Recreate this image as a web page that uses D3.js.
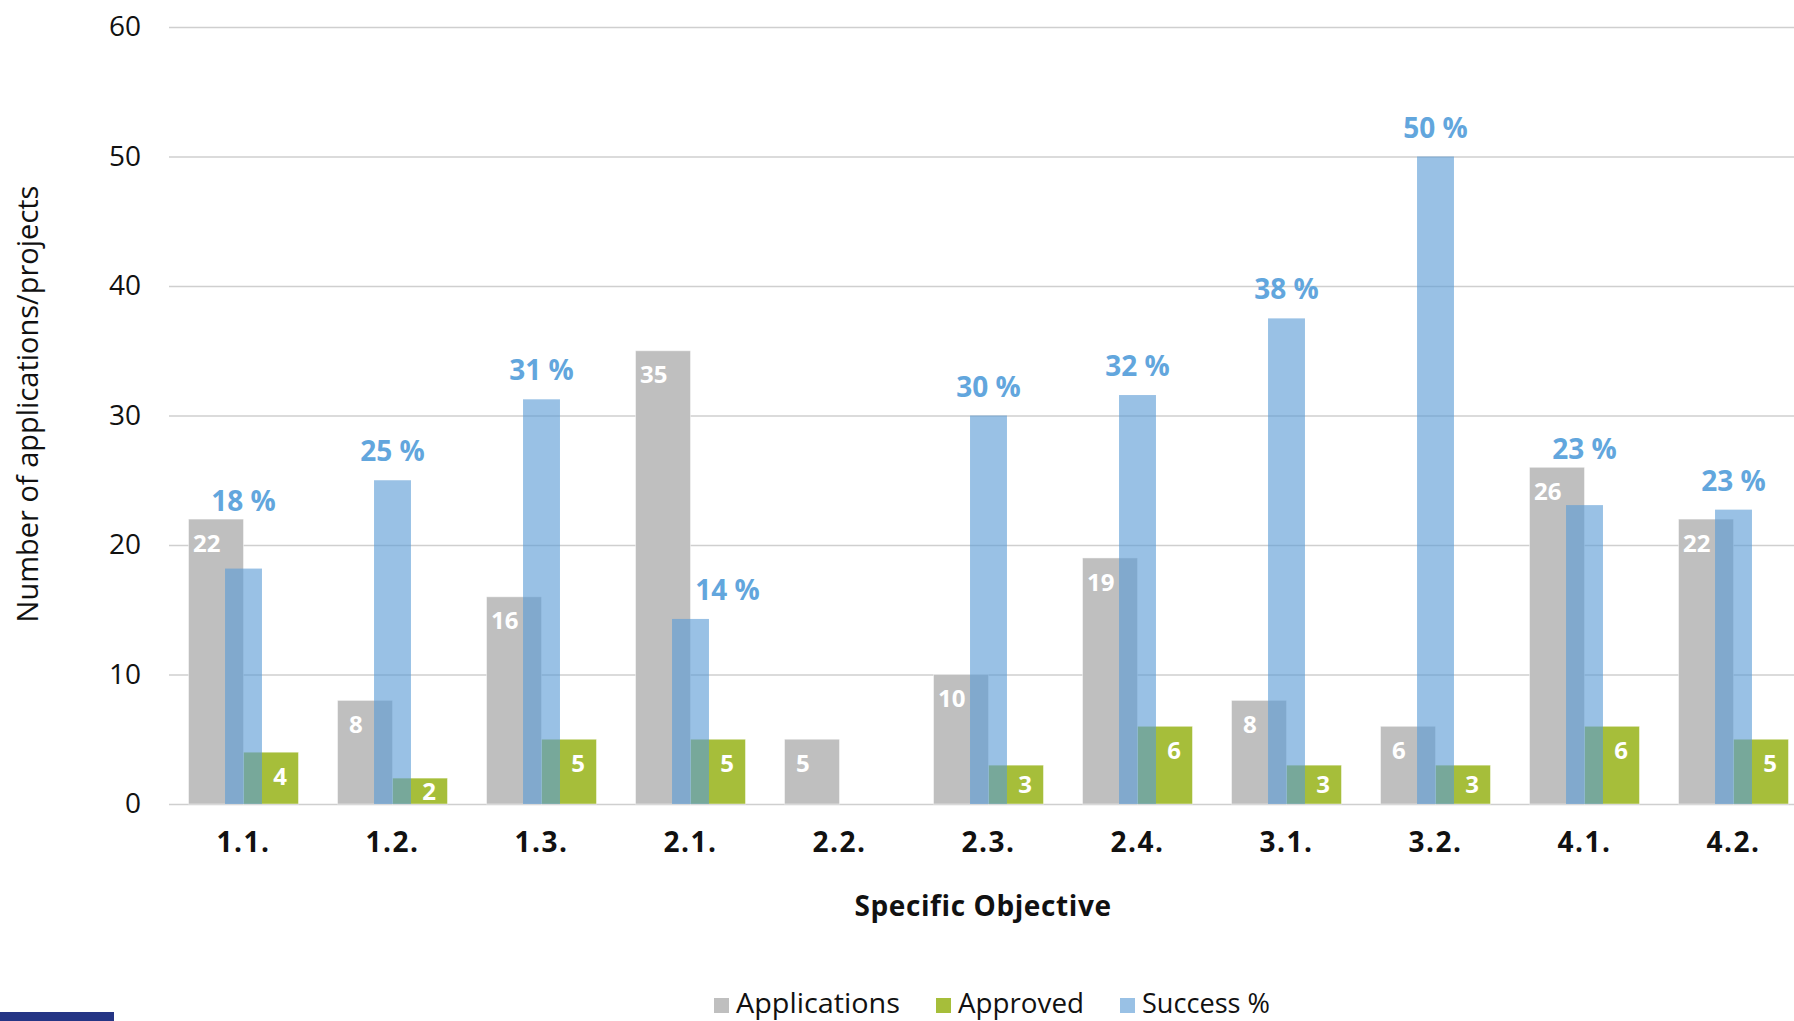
<!DOCTYPE html>
<html>
<head>
<meta charset="utf-8">
<script src="https://cdn.jsdelivr.net/npm/d3@7"></script>
<style>
  html, body { margin: 0; padding: 0; background: #fff; overflow: hidden; }
  svg { display: block; font-family: "Open Sans", "DejaVu Sans", sans-serif; }
</style>
</head>
<body>
<svg id="chart" width="1794" height="1021"></svg>
<script>
// Applications and approvals per specific objective
const categories   = ["1.1.", "1.2.", "1.3.", "2.1.", "2.2.", "2.3.", "2.4.", "3.1.", "3.2.", "4.1.", "4.2."];
const applications = [22, 8, 16, 35, 5, 10, 19, 8, 6, 26, 22];
const approved     = [4, 2, 5, 5, 0, 3, 6, 3, 3, 6, 5];
// Success rate in percent (approved / applications)
const successPct   = [18.18, 25, 31.25, 14.29, 0, 30, 31.58, 37.5, 50, 23.08, 22.73];
const yTicks       = [0, 10, 20, 30, 40, 50, 60];
const legendLabels = ["Applications", "Approved", "Success %"];

const colors = { applications: "#bfbfbf", approved: "#a6be3a", success: "#5b9bd5", label: "#62a6dd" };

const svg = d3.select("#chart");
const plot = { left: 169, right: 1808, top: 27, bottom: 804 };

const y = d3.scaleLinear().domain([0, 60]).range([plot.bottom, plot.top]);

// Clustered columns (applications + approved) on the main band
const x = d3.scaleBand().domain(categories).range([plot.left, plot.right])
  .paddingInner(0.262).paddingOuter(0.131);
const xSub = d3.scaleBand().domain(["applications", "approved"]).range([0, x.bandwidth()]);
// Narrower overlaid column for the success rate, centred on each category
const xs = d3.scaleBand().domain(categories).range([plot.left, plot.right])
  .paddingInner(0.752).paddingOuter(0.376);

// Y axis with horizontal gridlines
const yAxis = svg.append("g")
  .attr("transform", `translate(${plot.left},0)`)
  .call(d3.axisLeft(y).tickValues(yTicks).tickSize(-(plot.right - plot.left)).tickPadding(28));
yAxis.select(".domain").remove();
yAxis.selectAll(".tick line").attr("stroke", "#cfcfcf").attr("stroke-width", 1.5);
yAxis.selectAll(".tick text")
  .attr("font-size", 28).attr("fill", "#111").attr("font-family", "'Open Sans', sans-serif");

// X axis category labels
const xAxis = svg.append("g")
  .attr("transform", `translate(0,${plot.bottom})`)
  .call(d3.axisBottom(x).tickSize(0).tickPadding(28));
xAxis.select(".domain").remove();
xAxis.selectAll(".tick text")
  .attr("font-size", 28).attr("font-weight", "bold").attr("fill", "#111")
  .attr("letter-spacing", 1.5)
  .attr("font-family", "'Open Sans', sans-serif");

const rows = categories.map((c, i) => ({
  cat: c, apps: applications[i], appr: approved[i], pct: successPct[i]
}));

const barStroke = sel => sel.attr("stroke", "#fff").attr("stroke-opacity", 0.45).attr("stroke-width", 1);

// Applications
svg.append("g").selectAll("rect").data(rows).join("rect")
  .attr("x", d => x(d.cat) + xSub("applications"))
  .attr("width", xSub.bandwidth())
  .attr("y", d => y(d.apps))
  .attr("height", d => y(0) - y(d.apps))
  .attr("fill", colors.applications)
  .call(barStroke);

// Approved
svg.append("g").selectAll("rect").data(rows.filter(d => d.appr > 0)).join("rect")
  .attr("x", d => x(d.cat) + xSub("approved"))
  .attr("width", xSub.bandwidth())
  .attr("y", d => y(d.appr))
  .attr("height", d => y(0) - y(d.appr))
  .attr("fill", colors.approved)
  .call(barStroke);

// Success % (semi-transparent, drawn over the other two)
svg.append("g").selectAll("rect").data(rows.filter(d => d.pct > 0)).join("rect")
  .attr("x", d => xs(d.cat))
  .attr("width", xs.bandwidth())
  .attr("y", d => y(d.pct))
  .attr("height", d => y(0) - y(d.pct))
  .attr("fill", colors.success)
  .attr("fill-opacity", 0.62);

// Value labels inside the columns, centred on the uncovered part
const insideY = v => Math.min(y(v) + 24, (y(v) + y(0)) / 2);
const labels = svg.append("g")
  .attr("font-size", 24).attr("font-weight", "bold").attr("fill", "#fff")
  .attr("text-anchor", "middle");

labels.selectAll("text.apps").data(rows).join("text")
  .attr("class", "apps")
  .attr("x", d => (x(d.cat) + xs(d.cat)) / 2)
  .attr("y", d => insideY(d.apps))
  .attr("dy", "0.36em")
  .text(d => d.apps);

labels.selectAll("text.appr").data(rows.filter(d => d.appr > 0)).join("text")
  .attr("class", "appr")
  .attr("x", d => (xs(d.cat) + xs.bandwidth() + x(d.cat) + x.bandwidth()) / 2)
  .attr("y", d => insideY(d.appr))
  .attr("dy", "0.36em")
  .text(d => d.appr);

// Percentage labels above the success columns
svg.append("g")
  .attr("font-size", 28).attr("font-weight", "bold").attr("fill", colors.label)
  .attr("text-anchor", "middle")
  .selectAll("text").data(rows.filter(d => d.pct > 0)).join("text")
  .attr("x", d => {
    const c = xs(d.cat) + xs.bandwidth() / 2;
    // a much taller application column pushes the label sideways
    return d.apps - d.pct > 10 ? c + xs.bandwidth() : c;
  })
  .attr("y", d => {
    if (d.apps - d.pct > 10) return y(d.pct) - 19;
    return d.apps > d.pct ? y(d.apps) - 8 : y(d.pct) - 19;
  })
  .text(d => `${Math.round(d.pct)} %`);

// Axis titles
svg.append("text")
  .attr("transform", "translate(38,404) rotate(-90)")
  .attr("text-anchor", "middle")
  .attr("font-size", 29).attr("fill", "#111")
  .text("Number of applications/projects");

svg.append("text")
  .attr("x", 983).attr("y", 916)
  .attr("text-anchor", "middle")
  .attr("font-size", 28).attr("font-weight", "bold").attr("fill", "#111")
  .attr("letter-spacing", 0.6)
  .text("Specific Objective");

// Legend
const legendItems = [
  { label: legendLabels[0], color: colors.applications, opacity: 1, x: 714, w: 164 },
  { label: legendLabels[1], color: colors.approved, opacity: 1, x: 936, w: 126 },
  { label: legendLabels[2], color: colors.success, opacity: 0.62, x: 1120, w: 128 }
];
const legend = svg.append("g");
legendItems.forEach(it => {
  legend.append("rect")
    .attr("x", it.x).attr("y", 998).attr("width", 15).attr("height", 15)
    .attr("fill", it.color).attr("fill-opacity", it.opacity);
  legend.append("text")
    .attr("x", it.x + 22).attr("y", 1013)
    .attr("font-size", 28).attr("fill", "#111")
    .attr("textLength", it.w).attr("lengthAdjust", "spacingAndGlyphs")
    .text(it.label);
});

// Page footer bar
svg.append("rect").attr("x", 0).attr("y", 1012).attr("width", 114).attr("height", 9).attr("fill", "#253585");
</script>
</body>
</html>
